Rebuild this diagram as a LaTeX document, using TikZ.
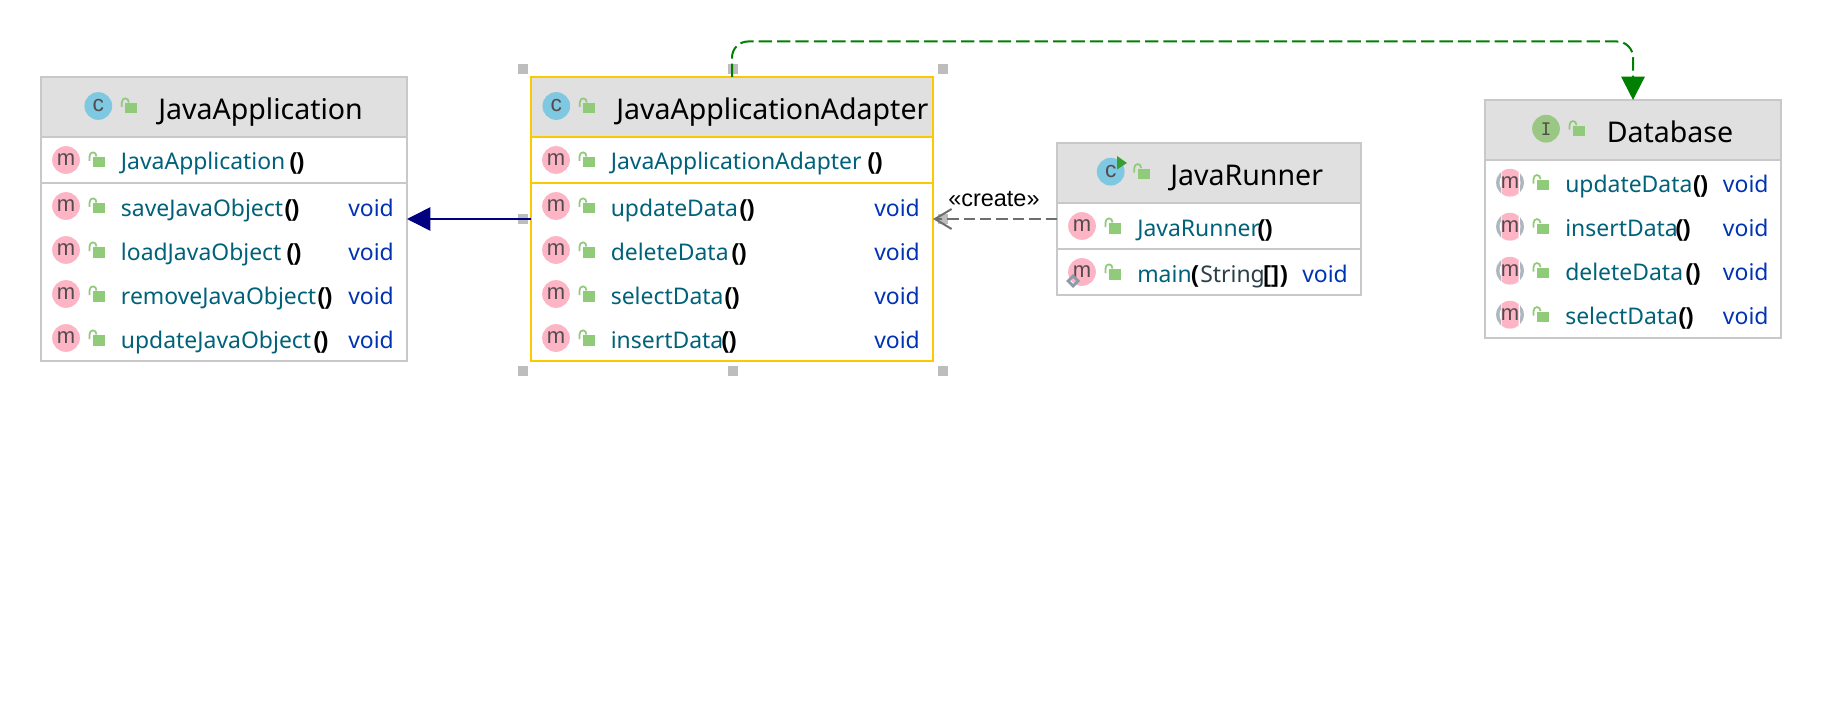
\documentclass[tikz,border=0pt]{standalone}
\usepackage{fontspec}
\setmainfont{Noto Sans}
\newfontfamily\labelfont{Liberation Sans}
\newfontfamily\iconfont{Liberation Sans}
\newfontfamily\iletterfont{DejaVu Sans Mono}
\usetikzlibrary{arrows.meta}
\definecolor{titlebg}{HTML}{E0E0E0}
\definecolor{umlborder}{HTML}{C8C8C8}
\definecolor{selborder}{HTML}{FCC800}
\definecolor{handlegrey}{HTML}{BDBDBD}
\definecolor{memberteal}{HTML}{00627A}
\definecolor{voidblue}{HTML}{0033B3}
\definecolor{paramgrey}{HTML}{2A3F47}
\definecolor{iconpink}{HTML}{FDB5C5}
\definecolor{iconblue}{HTML}{7FC8E2}
\definecolor{icongreen}{HTML}{9AC783}
\definecolor{icongrey}{HTML}{AEB6BF}
\definecolor{lockgreen}{HTML}{8FCB78}
\definecolor{lettergrey}{HTML}{544B4E}
\definecolor{linknavy}{HTML}{000080}
\definecolor{linkgreen}{HTML}{008000}
\definecolor{linkgrey}{HTML}{6E6E6E}
\definecolor{diamondgrey}{HTML}{8F9AA8}
\tikzset{
  x=0.75pt,y=-0.75pt,
  umlbox/.style={draw=umlborder,fill=white,line width=1pt,rectangle,inner sep=0pt,outer sep=0pt},
  selbox/.style={umlbox,draw=selborder},
  sepline/.style={draw=umlborder,line width=1.5pt},
  selsep/.style={draw=selborder,line width=1.5pt},
  titlefill/.style={fill=titlebg,draw=none},
  titletext/.style={anchor=base west,inner sep=0pt,font=\fontsize{21.4pt}{26pt}\selectfont,text=black},
  membertext/.style={anchor=base west,inner sep=0pt,font=\fontsize{17.2pt}{21pt}\selectfont,text=memberteal},
  parentext/.style={anchor=base west,inner sep=0pt,font=\labelfont\fontsize{17.4pt}{21pt}\selectfont\bfseries,text=black},
  paramtext/.style={anchor=base west,inner sep=0pt,font=\fontsize{17.2pt}{21pt}\selectfont,text=paramgrey},
  voidtext/.style={anchor=base west,inner sep=0pt,font=\fontsize{17.2pt}{21pt}\selectfont,text=voidblue},
  icondisc/.style={circle,inner sep=0pt,minimum size=20.8pt,text=lettergrey},
  mdisc/.style={icondisc,fill=iconpink,font=\iconfont\fontsize{16.5pt}{14pt}\selectfont},
  mletter/.style={icondisc,font=\iconfont\fontsize{16.5pt}{14pt}\selectfont},
  cdisc/.style={icondisc,fill=iconblue,font=\iconfont\fontsize{17pt}{15pt}\selectfont},
  idisc/.style={icondisc,fill=icongreen,font=\iletterfont\fontsize{13pt}{13pt}\selectfont},
  lockbody/.style={fill=lockgreen,draw=none},
  lockshackle/.style={draw=lockgreen,line width=1.3pt},
  handle/.style={fill=handlegrey,draw=none,rectangle,inner sep=0pt,minimum size=7.5pt},
  createlabel/.style={anchor=base west,inner sep=0pt,font=\labelfont\fontsize{17.6pt}{20pt}\selectfont,text=black},
  gentip/.style={-{Triangle[length=17.5pt,width=17.5pt]}},
}
% open lock beside an icon centred at (#1,#2)
\newcommand{\lockat}[2]{%
  \begin{scope}[shift={(#1,#2)}]
    \fill[lockbody] (27,-3) rectangle (39,7.5);
    \draw[lockshackle] (23.5,1) -- (23.5,-3.5) .. controls (23.5,-9) and (30.5,-9) .. (30.5,-3.5);
  \end{scope}}
% prefix, icon x, icon y, text x, name, paren x, void x
\newcommand{\memberrow}[7]{%
  \node[mdisc] (#1-icon) at (#2,#3) {m};
  \lockat{#2}{#3}
  \node[membertext] (#1-name) at (#4,#3+10) {#5};
  \node[parentext] (#1-par) at (#6,#3+10) {()};
  \node[voidtext] (#1-ret) at (#7,#3+10) {void};
}
\newcommand{\ctorrow}[6]{%
  \node[mdisc] (#1-icon) at (#2,#3) {m};
  \lockat{#2}{#3}
  \node[membertext] (#1-name) at (#4,#3+10) {#5};
  \node[parentext] (#1-par) at (#6,#3+10) {()};
}
% abstract member of the interface
\newcommand{\absrow}[7]{%
  \node[mdisc,fill=icongrey] (#1-disc) at (#2,#3) {};
  \fill[white] (#2,#3) circle [radius=10.5];
  \fill[white] (#2-9.5,#3-14.5) rectangle (#2+9.5,#3+14.5);
  \begin{scope}
    \clip (#2-8.5,#3-14.5) rectangle (#2+8.5,#3+14.5);
    \fill[iconpink] (#2,#3) circle [radius=13.9];
  \end{scope}
  \node[mletter] (#1-icon) at (#2,#3) {m};
  \lockat{#2}{#3}
  \node[membertext] (#1-name) at (#4,#3+10) {#5};
  \node[parentext] (#1-par) at (#6,#3+10) {()};
  \node[voidtext] (#1-ret) at (#7,#3+10) {void};
}
\begin{document}
\begin{tikzpicture}
\useasboundingbox (0,0) rectangle (1824,706);
\fill[white] (0,0) rectangle (1824,706);

% selection handles
\node[handle] (h1) at (523,69) {};
\node[handle] (h2) at (733,69) {};
\node[handle] (h3) at (943,69) {};
\node[handle] (h4) at (523,219) {};
\node[handle] (h5) at (943,219) {};
\node[handle] (h6) at (523,371) {};
\node[handle] (h7) at (733,371) {};
\node[handle] (h8) at (943,371) {};

% JavaApplication
\node[umlbox,minimum width={366*0.75pt},minimum height={284*0.75pt}] (app) at (224,219) {};
\fill[titlefill] (42,78) rectangle (406,136);
\draw[sepline] (app.west |- 0,137) -- (app.east |- 0,137);
\draw[sepline] (app.west |- 0,183) -- (app.east |- 0,183);
\node[cdisc] (app-c) at (98.3,106) {c};
\lockat{98.3}{106}
\node[titletext] (app-title) at (158,120) {JavaApplication};
\ctorrow{appk}{66}{160}{120.7}{JavaApplication}{289}
\memberrow{appa}{66}{206}{120.7}{saveJavaObject}{284}{348}
\memberrow{appb}{66}{250}{120.7}{loadJavaObject}{286}{348}
\memberrow{appc}{66}{294}{120.7}{removeJavaObject}{317}{348}
\memberrow{appd}{66}{338}{120.7}{updateJavaObject}{313}{348}

% JavaApplicationAdapter
\node[selbox,minimum width={402*0.75pt},minimum height={284*0.75pt}] (ada) at (732,219) {};
\fill[titlefill] (532,78) rectangle (932,136);
\draw[selsep] (ada.west |- 0,137) -- (ada.east |- 0,137);
\draw[selsep] (ada.west |- 0,183) -- (ada.east |- 0,183);
\node[cdisc] (ada-c) at (556.3,106) {c};
\lockat{556.3}{106}
\node[titletext] (ada-title) at (616,120) {JavaApplicationAdapter};
\ctorrow{adak}{556}{160}{610.5}{JavaApplicationAdapter}{867}
\memberrow{adaa}{556}{206}{610.5}{updateData}{739}{874}
\memberrow{adab}{556}{250}{610.5}{deleteData}{731}{874}
\memberrow{adac}{556}{294}{610.5}{selectData}{724}{874}
\memberrow{adad}{556}{338}{610.5}{insertData}{721}{874}

% JavaRunner
\node[umlbox,minimum width={304*0.75pt},minimum height={152*0.75pt}] (run) at (1209,219) {};
\fill[titlefill] (1058,144) rectangle (1360,202);
\draw[sepline] (run.west |- 0,203) -- (run.east |- 0,203);
\draw[sepline] (run.west |- 0,249) -- (run.east |- 0,249);
\node[cdisc] (run-c) at (1110.7,171.7) {c};
\lockat{1110.7}{171.7}
\fill[linkgreen!60!lockgreen] (1117,156) -- (1127,163) -- (1117,169.5) -- cycle;
\node[titletext] (run-title) at (1170,185.7) {JavaRunner};
\ctorrow{runk}{1082}{226}{1137}{JavaRunner}{1257}
\node[mdisc] (runm-icon) at (1082,272) {m};
\lockat{1082}{272}
\fill[diamondgrey,even odd rule] (1073,274) -- (1080,281) -- (1073,288) -- (1066,281) -- cycle
  (1073,278) -- (1076,281) -- (1073,284) -- (1070,281) -- cycle;
\node[membertext] (runm-name) at (1137,282) {main};
\node[parentext] (runm-open) at (1190.7,282) {(};
\node[paramtext] (runm-par) at (1200,282) {String};
\node[parentext] (runm-arr) at (1263,282) {[]};
\node[parentext] (runm-close) at (1280,282) {)};
\node[voidtext] (runm-ret) at (1302,282) {void};

% Database
\node[umlbox,minimum width={296*0.75pt},minimum height={238*0.75pt}] (db) at (1633,219) {};
\fill[titlefill] (1486,101) rectangle (1780,159);
\draw[sepline] (db.west |- 0,160) -- (db.east |- 0,160);
\node[idisc] (db-i) at (1546,128.7) {I};
\lockat{1546}{128.7}
\node[titletext] (db-title) at (1606.5,142.7) {Database};
\absrow{dba}{1510}{182.7}{1565}{updateData}{1692.7}{1722.7}
\absrow{dbb}{1510}{226.7}{1565}{insertData}{1675}{1722.7}
\absrow{dbc}{1510}{270.7}{1565}{deleteData}{1685}{1722.7}
\absrow{dbd}{1510}{314.7}{1565}{selectData}{1678}{1722.7}

% connectors
\draw[linknavy,line width=1.2pt,gentip] (ada.west) -- (app.east);
\draw[linkgrey,line width=1.5pt,dash pattern=on 8.5pt off 3.8pt,
      -{Straight Barb[length=12.5pt,width=15pt,line width=1.5pt]}] (run.west) -- (ada.east);
\draw[linkgreen,line width=1.5pt,dash pattern=on 10pt off 3.8pt,rounded corners=12pt,gentip]
  (ada.north) -- (ada.north |- 0,41.5) -- (db.north |- 0,41.5) -- (db.north);
\node[createlabel] (create) at (948,207) {«create»};
\end{tikzpicture}
\end{document}
